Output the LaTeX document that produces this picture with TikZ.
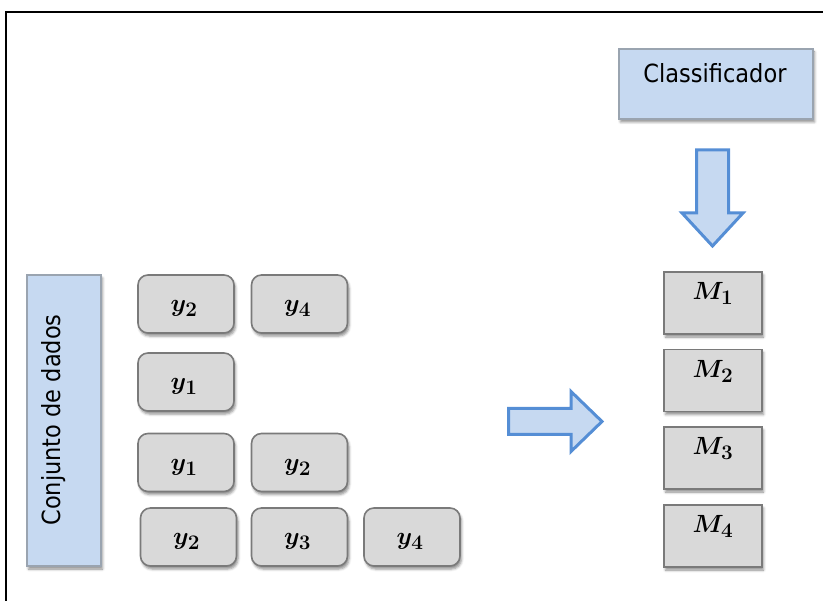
\documentclass[tikz,border=0pt]{standalone}
\usepackage{fontspec}
\newfontfamily\labelfont{DejaVu Sans Condensed}
\usetikzlibrary{calc,shadows.blur}

\definecolor{boxblue}{HTML}{C6D9F1}
\definecolor{arrowblue}{HTML}{558ED5}
\definecolor{boxgray}{HTML}{D9D9D9}
\definecolor{edgegray}{HTML}{7A7A7A}
\definecolor{blueedge}{HTML}{9AA4B0}

\begin{document}
\begin{tikzpicture}[x=1pt, y=-1pt,
  softshadow/.style={blur shadow={shadow xshift=1.5pt, shadow yshift=-3pt,
      shadow blur radius=2.5pt, shadow opacity=45}},
  graybox/.style={draw=edgegray, line width=1.6pt, fill=boxgray, softshadow,
      inner sep=0pt},
  ybox/.style={graybox, rounded corners=10pt, minimum width=96pt, minimum height=58pt},
  mbox/.style={graybox, minimum width=98pt, minimum height=62pt},
  bluebox/.style={draw=blueedge, line width=1.2pt, fill=boxblue, softshadow, inner sep=0pt},
  sanslabel/.style={font=\labelfont\fontsize{25}{30}\selectfont, inner sep=0pt, anchor=base},
  ylabel/.style={font=\boldmath\fontsize{31}{36}\selectfont, inner sep=0pt, anchor=base},
  mlabel/.style={font=\boldmath\fontsize{29}{34}\selectfont, inner sep=0pt, anchor=base},
  blockarrow/.style={fill=boxblue, draw=arrowblue, line width=3pt, line join=miter}
]
\useasboundingbox (0,0) rectangle (823,601);

% outer frame
\draw[line width=1.5pt] (6,601) -- (6,12) -- (823,12);

% classifier box
\node[bluebox, minimum width=194pt, minimum height=70pt] (cls) at (716,84) {};
\node[sanslabel] (clstext) at ($(cls.center)+(-1,-1)$) {Classificador};

% data set box
\node[bluebox, minimum width=74pt, minimum height=291pt] (data) at (64,420.5) {};
\node[sanslabel, rotate=90] (datatext) at (60,420) {Conjunto de dados};

% subsets of labels
\node[ybox] (a1) at (186,304) {};
\node[ybox] (a2) at (299.5,304) {};
\node[ybox] (b1) at (186,382) {};
\node[ybox] (c1) at (186,462.5) {};
\node[ybox] (c2) at (299.5,462.5) {};
\node[ybox] (d1) at (188.5,537) {};
\node[ybox] (d2) at (299.5,537) {};
\node[ybox] (d3) at (412,537) {};

\node[ylabel] (ta1) at ($(a1.center)+(-2,8)$) {$y_2$};
\node[ylabel] (ta2) at ($(a2.center)+(-2,8)$) {$y_4$};
\node[ylabel] (tb1) at ($(b1.center)+(-2,8)$) {$y_1$};
\node[ylabel] (tc1) at ($(c1.center)+(-2,8)$) {$y_1$};
\node[ylabel] (tc2) at ($(c2.center)+(-2,8)$) {$y_2$};
\node[ylabel] (td1) at ($(d1.center)+(-2,8)$) {$y_2$};
\node[ylabel] (td2) at ($(d2.center)+(-2,8)$) {$y_3$};
\node[ylabel] (td3) at ($(d3.center)+(-2,8)$) {$y_4$};

% models
\node[mbox] (m1) at (713,303) {};
\node[mbox] (m2) at (713,380.5) {};
\node[mbox] (m3) at (713,458) {};
\node[mbox] (m4) at (713,536) {};

\node[mlabel] (tm1) at ($(m1.center)+(0,-3)$) {$M_1$};
\node[mlabel] (tm2) at ($(m2.center)+(0,-3)$) {$M_2$};
\node[mlabel] (tm3) at ($(m3.center)+(0,-3)$) {$M_3$};
\node[mlabel] (tm4) at ($(m4.center)+(0,-3)$) {$M_4$};

% block arrow from the classifier down to the models
\draw[blockarrow] (696.5,150) -- (728.5,150) -- (728.5,213) -- (743,213)
  -- (712.5,246) -- (682,213) -- (696.5,213) -- cycle;

% block arrow from the subsets to the models
\draw[blockarrow] (508.5,408.5) -- (571,408.5) -- (571,391.5) -- (602,421.5)
  -- (571,451.5) -- (571,434.5) -- (508.5,434.5) -- cycle;
\end{tikzpicture}
\end{document}
